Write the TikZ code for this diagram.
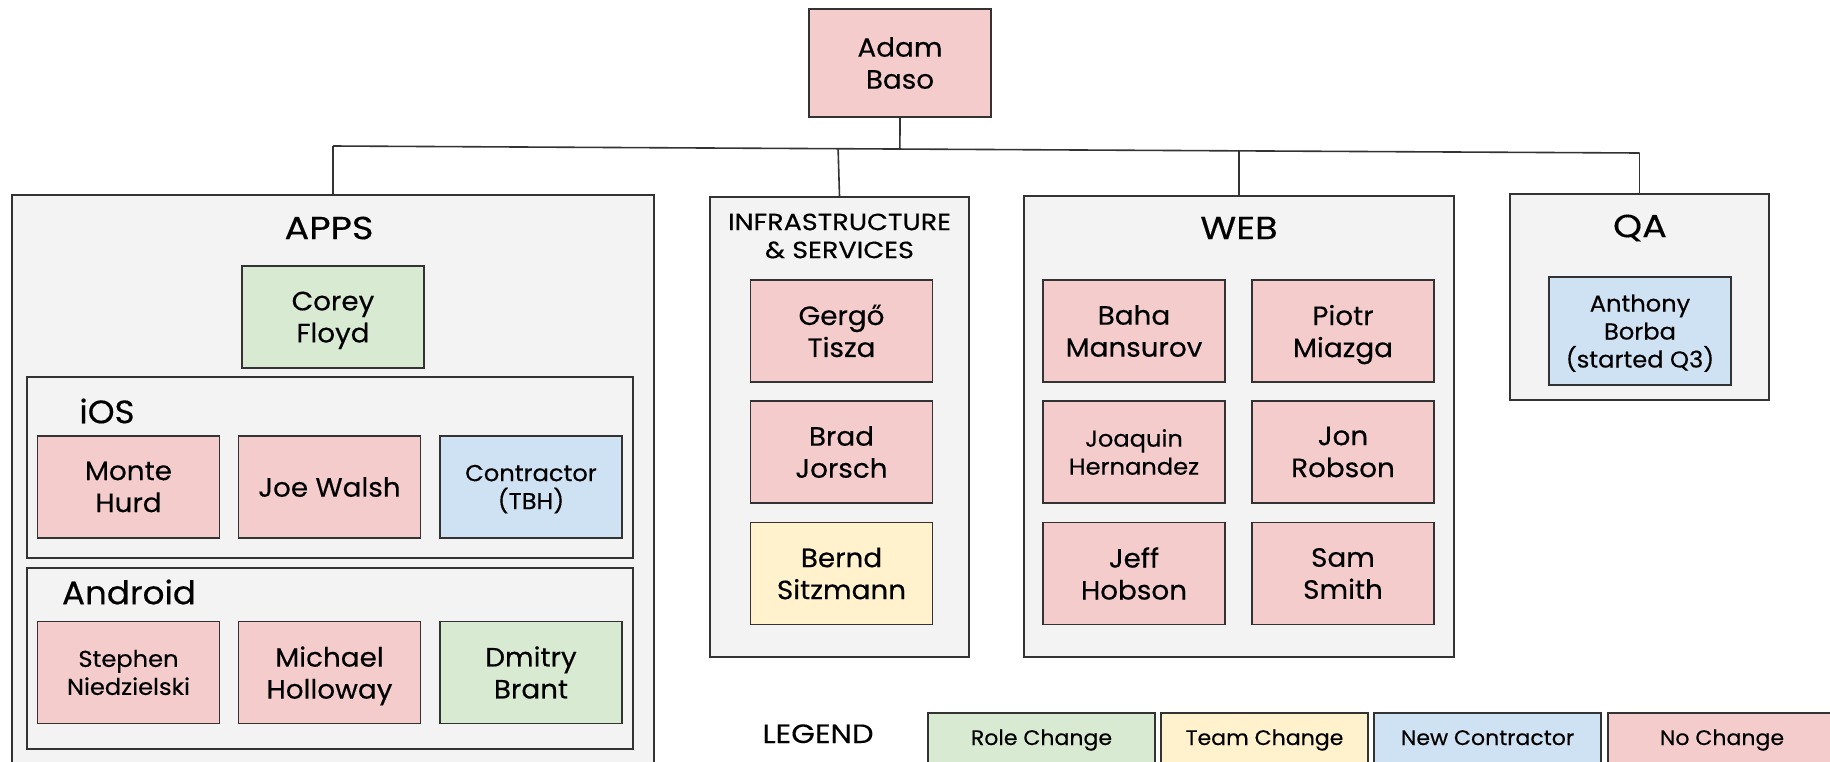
\documentclass[tikz,border=0pt]{standalone}
\usepackage{fontspec}
\setmainfont{Poppins}[FakeStretch=1.05, FakeBold=0.35]
\newfontfamily\capsfont{Poppins}[FakeStretch=1.15, FakeBold=0.35]
\usetikzlibrary{calc}

\definecolor{nochange}{HTML}{F4CCCC}
\definecolor{rolechg}{HTML}{D9EAD3}
\definecolor{teamchg}{HTML}{FFF2CC}
\definecolor{newcon}{HTML}{CFE2F3}
\definecolor{panel}{HTML}{F3F3F3}
\definecolor{edge}{HTML}{333333}

\newcommand\fsz[2]{\fontsize{#1}{#2}\selectfont}
% last line of a name: ignore descenders so the text centres on its baselines
\newcommand\nodepth[1]{\raisebox{0pt}[\height][0pt]{#1}}

\tikzset{
  person/.style={draw=edge, line width=1.6pt, minimum width=182pt,
    minimum height=102pt, inner sep=0pt, align=center, font=\fsz{26.5}{32}},
  small/.style={font=\fsz{23}{28}},
  group/.style={draw=edge, line width=1.4pt, fill=panel, inner sep=0pt},
  title/.style={inner sep=0pt, font=\capsfont\fsz{32}{36}},
  subtitle/.style={inner sep=0pt, font=\fsz{32.5}{36}},
  legbox/.style={draw=edge, line width=1.6pt},
  legtext/.style={inner sep=0pt, anchor=base, font=\fsz{21}{26}},
  link/.style={draw=edge, line width=1.6pt},
}

\begin{document}
\begin{tikzpicture}[x=1pt,y=-1pt]
\useasboundingbox (0,0) rectangle (1830,761);
\clip (0,0) rectangle (1830,761);

% department panels
\node[group, minimum width=642pt, minimum height=595pt] (apps) at (333,492.5) {};
\node[group, minimum width=606pt, minimum height=181pt] (ios) at (330,467.5) {};
\node[group, minimum width=606pt, minimum height=181pt] (android) at (330,658.5) {};
\node[group, minimum width=259pt, minimum height=460pt] (infra) at (839.5,427) {};
\node[group, minimum width=430pt, minimum height=461pt] (web) at (1239,426.5) {};
\node[group, minimum width=259pt, minimum height=206pt] (qa) at (1639.5,297) {};

% panel titles
\node[title] (appsT) at (329,228) {APPS};
\node[inner sep=0pt, align=center, font=\capsfont\fsz{23.5}{28}] (infraT) at (839.5,236) {INFRASTRUCTURE\\\& SERVICES};
\node[title] (webT) at (1239,228) {WEB};
\node[title] (qaT) at (1640,228) {QA};
\node[subtitle] (iosT) at (107,411) {iOS};
\node[subtitle] (androidT) at (129,592) {Android};

% people
\node[person, fill=nochange, minimum height=108pt] (adam) at (900,63) {Adam\\Baso};
\node[person, fill=rolechg] (corey) at (333,317) {Corey\\\nodepth{Floyd}};

\node[person, fill=nochange] (monte) at (128.5,487) {Monte\\Hurd};
\node[person, fill=nochange] (joe) at (329.5,487) {Joe Walsh};
\node[person, fill=newcon, small] (contractor) at (531,487) {Contractor\\\nodepth{(TBH)}};

\node[person, fill=nochange, small] (stephen) at (128.5,672.5) {Stephen\\Niedzielski};
\node[person, fill=nochange] (michael) at (329.5,672.5) {Michael\\\nodepth{Holloway}};
\node[person, fill=rolechg] (dmitry) at (531,672.5) {Dmitry\\Brant};

\node[person, fill=nochange] (gergo) at (841.5,331) {Gergő\\Tisza};
\node[person, fill=nochange] (brad) at (841.5,452) {Brad\\Jorsch};
\node[person, fill=teamchg] (bernd) at (841.5,573.5) {Bernd\\Sitzmann};

\node[person, fill=nochange] (baha) at (1134,331) {Baha\\Mansurov};
\node[person, fill=nochange] (piotr) at (1343,331) {Piotr\\\nodepth{Miazga}};
\node[person, fill=nochange, small] (joaquin) at (1134,452) {Joaquin\\Hernandez};
\node[person, fill=nochange] (jon) at (1343,452) {Jon\\Robson};
\node[person, fill=nochange] (jeff) at (1134,573.5) {Jeff\\Hobson};
\node[person, fill=nochange] (sam) at (1343,573.5) {Sam\\Smith};

\node[person, fill=newcon, small, minimum height=108pt] (anthony) at (1640,331) {Anthony\\Borba\\\nodepth{(started Q3)}};

% reporting lines
\coordinate (busL) at (333,146);
\coordinate (busR) at (1639.5,153);
\coordinate (busI) at ($(busL)!0.3866!(busR)$);
\coordinate (busM) at ($(busL)!0.4339!(busR)$);
\coordinate (busW) at ($(busL)!0.6934!(busR)$);
\draw[link] (busL) -- (busR);
\draw[link] (adam.south) -- (busM);
\draw[link] (busL) -- (apps.north);
\draw[link] (busI) -- (infra.north);
\draw[link] (busW) -- (web.north);
\draw[link] (busR) -- (qa.north);

% legend
\node[inner sep=0pt, anchor=base, font=\capsfont\fsz{26.5}{30}] (legendT) at (818,743) {LEGEND};
\draw[legbox, fill=rolechg] (928,713) rectangle (1155,790);
\draw[legbox, fill=teamchg] (1161,713) rectangle (1368,790);
\draw[legbox, fill=newcon] (1374,713) rectangle (1601,790);
\draw[legbox, fill=nochange] (1608,713) rectangle (1850,790);
\node[legtext] (legRole) at (1041.5,745) {Role Change};
\node[legtext] (legTeam) at (1264.5,745) {Team Change};
\node[legtext] (legNew) at (1487.5,745) {New Contractor};
\node[legtext] (legNo) at (1722,745) {No Change};
\end{tikzpicture}
\end{document}
